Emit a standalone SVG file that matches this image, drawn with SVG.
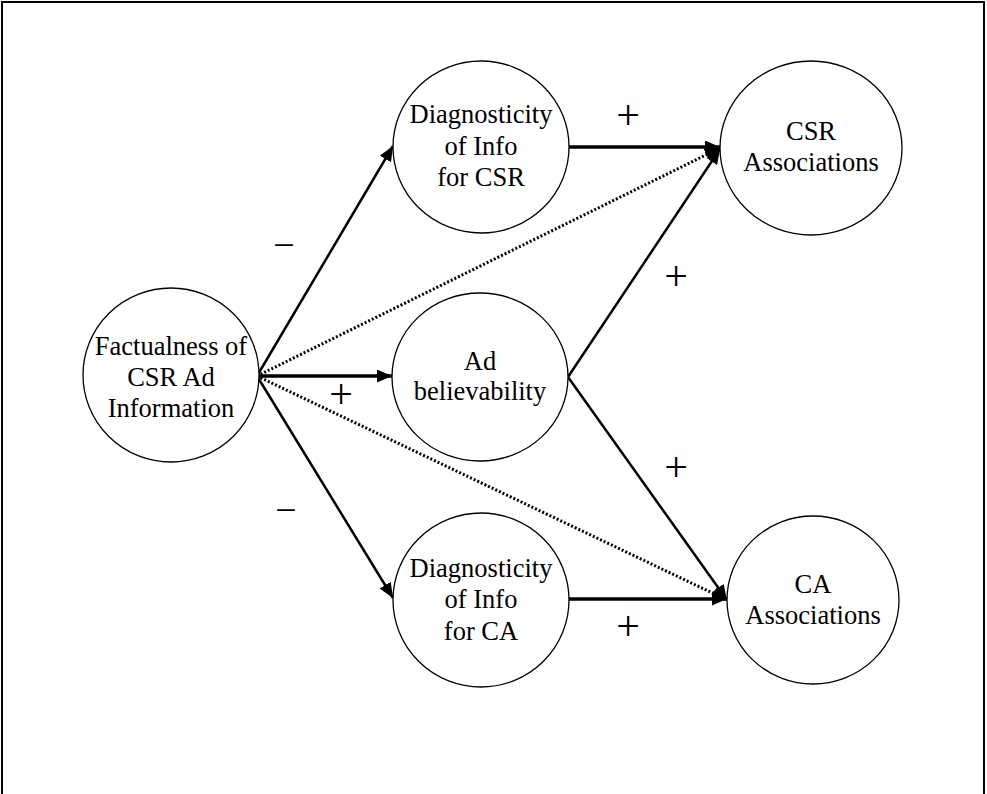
<svg xmlns="http://www.w3.org/2000/svg" width="987" height="794" viewBox="0 0 987 794">
<style>
.node ellipse{fill:#fff;stroke:#000;stroke-width:1.3}
.node text{font-size:26.5px;text-anchor:middle;fill:#000}
.sign{font-size:42px;text-anchor:middle;fill:#000}
.minus{font-size:38px;text-anchor:middle;fill:#000}
.solid{fill:none;stroke:#000;stroke-width:2.5}
.thick{fill:none;stroke:#000;stroke-width:3.5}
.dot{fill:none;stroke:#000;stroke-width:3;stroke-dasharray:2 2}
</style>
<defs>
<marker id="ah" markerUnits="userSpaceOnUse" markerWidth="16" markerHeight="14" refX="15" refY="6.5" orient="auto">
<path d="M0,0 L15,6.5 L0,13 Z" fill="#000"/>
</marker>
</defs>
<rect x="2" y="2" width="982" height="830" fill="#fff" stroke="#000" stroke-width="2"/>
<g id="connectors">
<line class="dot" x1="257" y1="376" x2="720" y2="148" marker-end="url(#ah)"/>
<line class="dot" x1="257" y1="376" x2="727" y2="600" marker-end="url(#ah)"/>
<line class="solid" x1="257" y1="376" x2="393" y2="146" marker-end="url(#ah)"/>
<line class="thick" x1="257" y1="376" x2="392" y2="376" marker-end="url(#ah)"/>
<line class="solid" x1="257" y1="376" x2="393" y2="598" marker-end="url(#ah)"/>
<line class="thick" x1="569" y1="147" x2="720" y2="147" marker-end="url(#ah)"/>
<line class="solid" x1="568" y1="377" x2="720" y2="149" marker-end="url(#ah)"/>
<line class="solid" x1="568" y1="377" x2="727" y2="600" marker-end="url(#ah)"/>
<line class="thick" x1="569" y1="599" x2="727" y2="599" marker-end="url(#ah)"/>
</g>
<g id="signs" font-family="Liberation Serif, Times New Roman, serif">
<text class="sign" x="628" y="129">+</text>
<text class="sign" x="676" y="290">+</text>
<text class="sign" x="341" y="408">+</text>
<text class="sign" x="676" y="481">+</text>
<text class="sign" x="628" y="640">+</text>
<text class="minus" x="284" y="258">−</text>
<text class="minus" x="286" y="523">−</text>
</g>
<g font-family="Liberation Serif, Times New Roman, serif">
<g id="n_fact" class="node">
<ellipse cx="171" cy="375" rx="88" ry="87"/>
<text x="171" y="355">Factualness of</text>
<text x="171" y="386">CSR Ad</text>
<text x="171" y="417">Information</text>
</g>
<g id="n_diag_csr" class="node">
<ellipse cx="481" cy="147" rx="88" ry="86"/>
<text x="481" y="123">Diagnosticity</text>
<text x="481" y="155">of Info</text>
<text x="481" y="186">for CSR</text>
</g>
<g id="n_ad" class="node">
<ellipse cx="480" cy="377" rx="88" ry="84"/>
<text x="480" y="370">Ad</text>
<text x="480" y="400">believability</text>
</g>
<g id="n_diag_ca" class="node">
<ellipse cx="481" cy="600" rx="88" ry="87"/>
<text x="481" y="577">Diagnosticity</text>
<text x="481" y="608">of Info</text>
<text x="481" y="640">for CA</text>
</g>
<g id="n_csr_assoc" class="node">
<ellipse cx="811" cy="148" rx="91" ry="87"/>
<text x="811" y="140">CSR</text>
<text x="811" y="171">Associations</text>
</g>
<g id="n_ca_assoc" class="node">
<ellipse cx="813" cy="600" rx="86" ry="84"/>
<text x="813" y="593">CA</text>
<text x="813" y="624">Associations</text>
</g>
</g>
</svg>
